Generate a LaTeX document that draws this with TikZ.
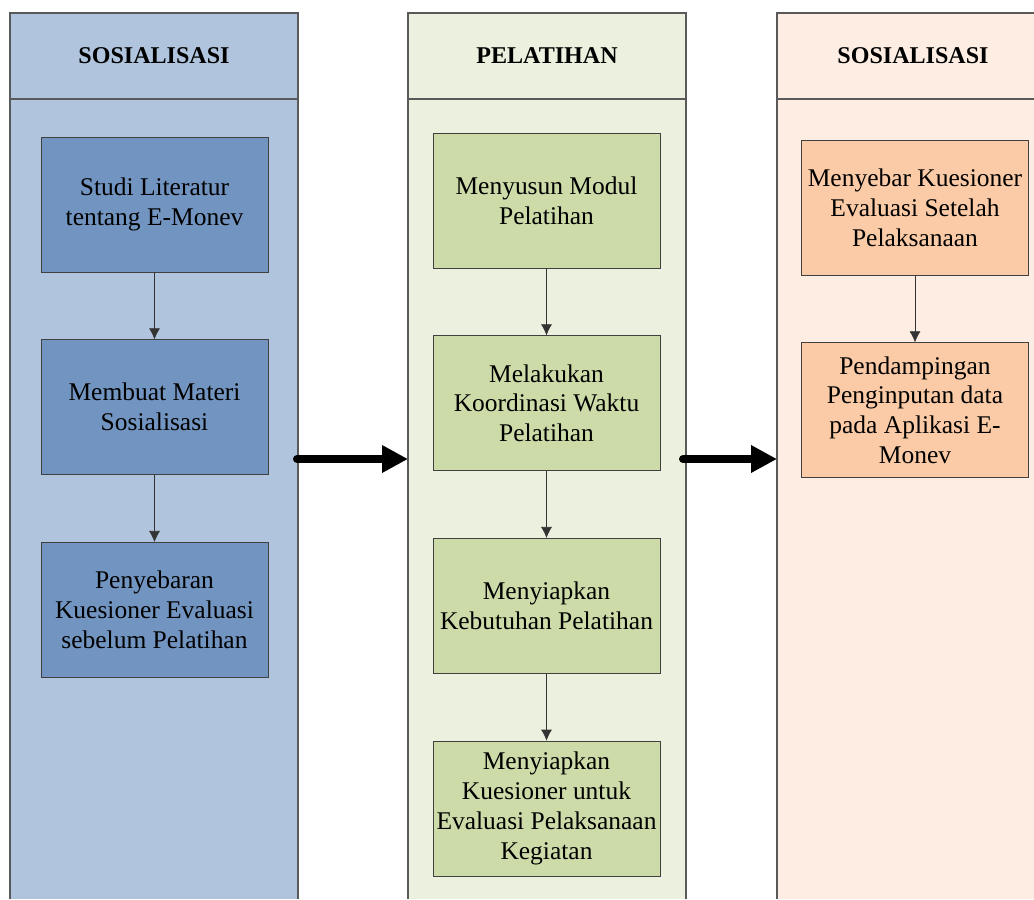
\documentclass[tikz,border=0pt]{standalone}
\usepackage{fontspec}
\setmainfont{Liberation Serif}
\usetikzlibrary{arrows,arrows.meta,positioning,calc}

\definecolor{laneA}{HTML}{B0C4DE}
\definecolor{boxA}{HTML}{7294C0}
\definecolor{laneB}{HTML}{EBF1DE}
\definecolor{boxB}{HTML}{CCDBA8}
\definecolor{laneC}{HTML}{FDEDE2}
\definecolor{boxC}{HTML}{FACBA6}

\begin{document}
\begin{tikzpicture}[x=0.02cm, y=0.02cm, node distance=1.34cm,
            every node/.style={align=center, font=\fontsize{14.5}{17}\selectfont},
            head/.style={font=\fontsize{13.7}{16}\selectfont\bfseries},
            box/.style={draw=black!75, minimum width=4.54cm, minimum height=2.7cm, inner xsep=0pt, inner ysep=2pt},
            lane/.style={draw=black!65, line width=0.6pt},
            flow/.style={draw=black!80, -{Latex[length=2.2mm,width=2.2mm]}},
            bigarrow/.style={line width=0.16cm, line cap=round, -{Triangle[length=0.52cm,width=0.52cm]}}]
        \clip (0,0) rectangle (1034,-899);

        % lanes
        \fill[laneA] (10,-13) rectangle (298,-899);
        \fill[laneB] (408,-13) rectangle (686,-899);
        \fill[laneC] (777,-13) rectangle (1040,-899);
        \draw[lane] (10,-899) -- (10,-13) -- (298,-13) -- (298,-899);
        \draw[lane] (408,-899) -- (408,-13) -- (686,-13) -- (686,-899);
        \draw[lane] (777,-899) -- (777,-13) -- (1040,-13);
        \draw[lane] (10,-99) -- (298,-99) (408,-99) -- (686,-99) (777,-99) -- (1040,-99);

        \node[head] (headA) at (154,-56) {SOSIALISASI};
        \node[head] (headB) at (547,-56) {PELATIHAN};
        \node[head] (headC) at (913,-56) {SOSIALISASI};

        % sosialisasi
        \node[box, fill=boxA] (studi) at (154.5,-204.5) {Studi Literatur\\tentang E-Monev};
        \node[box, fill=boxA, below=of studi] (materi) {Membuat Materi\\Sosialisasi};
        \node[box, fill=boxA, below=of materi] (sebar) {Penyebaran\\Kuesioner Evaluasi\\sebelum Pelatihan};

        % pelatihan
        \node[box, fill=boxB] (modul) at (546.5,-200.5) {Menyusun Modul\\Pelatihan};
        \node[box, fill=boxB, below=of modul] (koord) {Melakukan\\Koordinasi Waktu\\Pelatihan};
        \node[box, fill=boxB, below=of koord] (butuh) {Menyiapkan\\Kebutuhan Pelatihan};
        \node[box, fill=boxB, below=of butuh] (kuesioner) {Menyiapkan\\Kuesioner untuk\\Evaluasi Pelaksanaan\\Kegiatan};

        % sosialisasi akhir
        \node[box, fill=boxC] (evaluasi) at (915,-207.5) {Menyebar Kuesioner\\Evaluasi Setelah\\Pelaksanaan};
        \node[box, fill=boxC, below=of evaluasi] (dampingan) {Pendampingan\\Penginputan data\\pada Aplikasi E-\\Monev};

        \draw[flow] (studi) -- (materi);
        \draw[flow] (materi) -- (sebar);
        \draw[flow] (modul) -- (koord);
        \draw[flow] (koord) -- (butuh);
        \draw[flow] (butuh) -- (kuesioner);
        \draw[flow] (evaluasi) -- (dampingan);

        \coordinate (outA) at (297,-459);
        \coordinate (inB) at (408,-459);
        \coordinate (outB) at (683,-459);
        \coordinate (inC) at (777,-459);
        \draw[bigarrow] (outA) -- (inB);
        \draw[bigarrow] (outB) -- (inC);
\end{tikzpicture}
\end{document}
